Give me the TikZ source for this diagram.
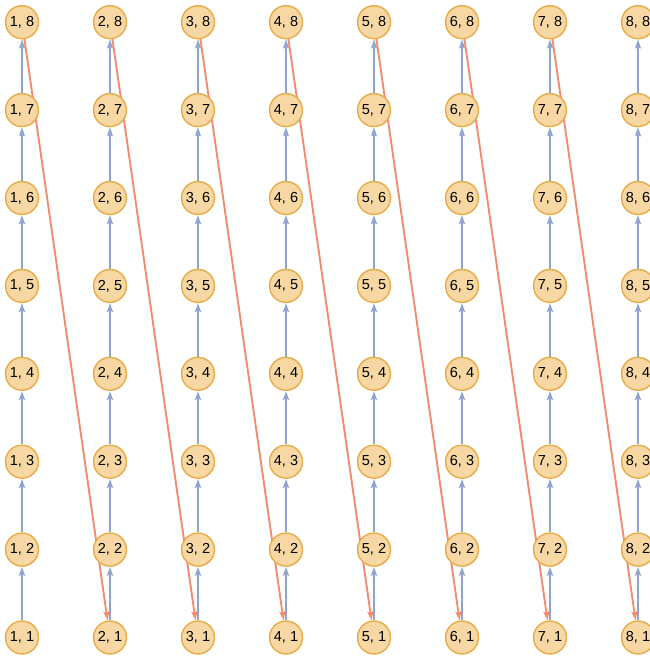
\documentclass[tikz,border=0pt]{standalone}
\usepackage{fontspec}
\setmainfont{Liberation Sans}
\usetikzlibrary{arrows.meta,backgrounds}
\definecolor{vfill}{RGB}{247,216,164}
\definecolor{vdraw}{RGB}{232,172,70}
\definecolor{eblue}{RGB}{142,166,206}
\definecolor{ered}{RGB}{240,140,115}
\tikzset{
  vert/.style={circle, minimum size=33pt, inner sep=0pt, fill=vfill, draw=vdraw, line width=1.4pt, font=\fontsize{14.5}{16}\selectfont},
  upedge/.style={draw=eblue, line width=1.9pt, -{Stealth[length=9pt,width=6pt,inset=1.5pt]}},
  jumpedge/.style={draw=ered, line width=1.9pt, -{Stealth[length=9pt,width=6pt,inset=1.5pt]}}
}
\begin{document}
\begin{tikzpicture}[x=1pt,y=1pt]
\useasboundingbox (0,0) rectangle (650,656);
% nodes
\foreach \k in {1,...,8}{
  \foreach \j in {1,...,8}{
    \node[vert] (v\k-\j) at ({22+88*(\k-1)},{656-637.5+87.9*(\j-1)}) {\k, \j};
  }
}
% edges behind nodes
\begin{pgfonlayer}{background}
\foreach \k in {1,...,8}{
  \foreach \j [evaluate=\j as \jn using int(\j+1)] in {1,...,7}{
    \draw[upedge] (v\k-\j) -- (v\k-\jn);
  }
}
\foreach \k [evaluate=\k as \kn using int(\k+1)] in {1,...,7}{
  \draw[jumpedge] (v\k-8) -- (v\kn-1);
}
\end{pgfonlayer}
\end{tikzpicture}
\end{document}
